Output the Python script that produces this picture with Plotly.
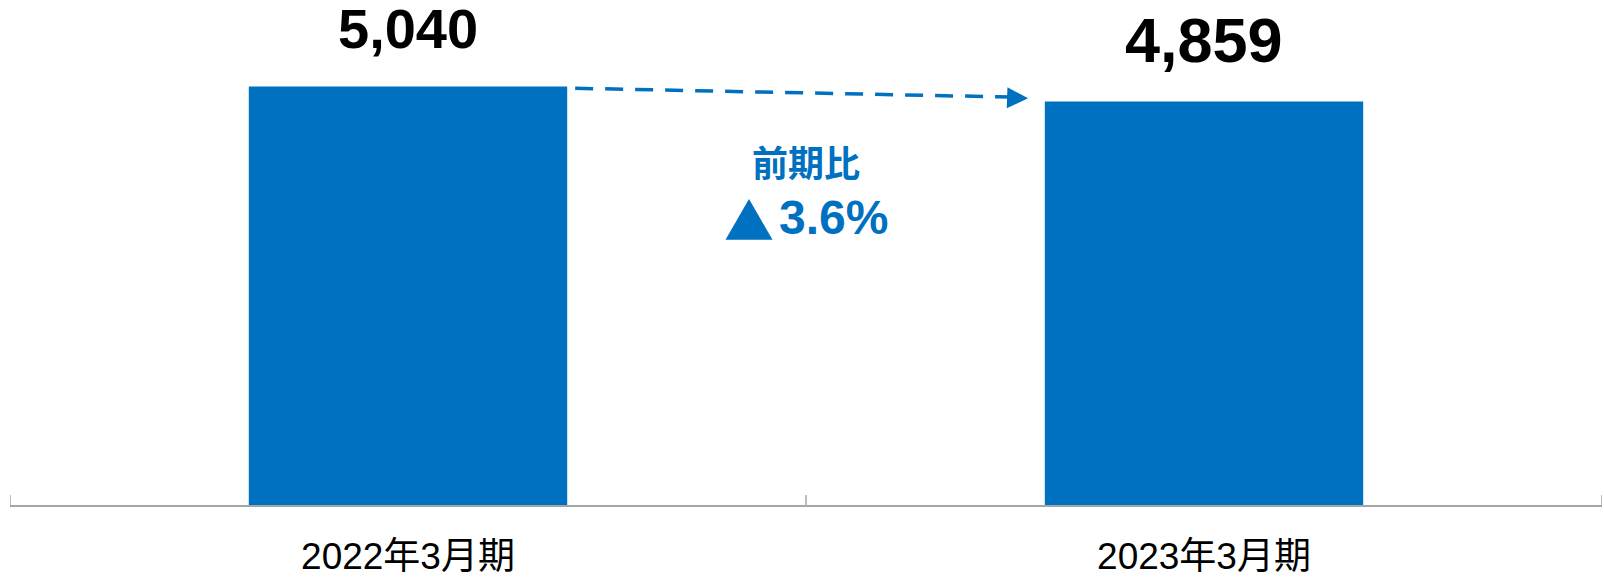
import plotly.graph_objects as go

categories = ["2022年3月期", "2023年3月期"]
values = [5040, 4859]
value_labels = ["5,040", "4,859"]
label_sizes = [56, 63]
change_title = "前期比"
change_mark = "▲"
change_text = "3.6%"

BLUE = "#0070C0"
FONT = "Liberation Sans, Arial, Noto Sans CJK JP, sans-serif"

fig = go.Figure()
fig.add_trace(go.Bar(
    x=list(range(len(categories))), y=values,
    marker=dict(color=BLUE, line=dict(width=0)),
    width=0.4, hoverinfo="skip",
))

for i, (v, lab, sz) in enumerate(zip(values, value_labels, label_sizes)):
    fig.add_annotation(x=i, y=v, xref="x", yref="y", text=f"<b>{lab}</b>",
                       showarrow=False, yanchor="middle", yshift=58 if i == 0 else 61,
                       borderpad=0,
                       font=dict(family=FONT, size=sz, color="black"))

# dashed connector between bar tops
x0 = 0 + 0.2 + 0.01
y0 = values[0] * 0.9955
x1 = 1 - 0.2 - 0.021
y1 = values[1] * 1.0076
fig.add_shape(type="line", xref="x", yref="y", x0=x0, y0=y0, x1=x1 - 0.018, y1=y1 + 15,
              line=dict(color=BLUE, width=3.5, dash="18px,12px"))
fig.add_annotation(x=x1, y=y1, xref="x", yref="y", ax=x1 - 0.025, ay=y1 + 8,
                   axref="x", ayref="y", text="", showarrow=True,
                   arrowhead=2, arrowsize=1.2, arrowwidth=3.5, arrowcolor=BLUE)

fig.add_annotation(x=0.5, y=0.675, xref="paper", yref="paper", text=f"<b>{change_title}</b>",
                   showarrow=False, yanchor="middle",
                   font=dict(family=FONT, size=36, color=BLUE))
fig.add_annotation(x=0.4805, y=0.568, xref="paper", yref="paper",
                   text=change_mark, showarrow=False, xanchor="right", yanchor="middle",
                   borderpad=0,
                   font=dict(family="Noto Sans CJK JP", size=50, color=BLUE))
fig.add_annotation(x=0.4825, y=0.57, xref="paper", yref="paper",
                   text=f"<b>{change_text}</b>", showarrow=False,
                   xanchor="left", yanchor="middle", borderpad=0,
                   font=dict(family=FONT, size=48, color=BLUE))

fig.update_layout(
    width=1604, height=577,
    margin=dict(l=10, r=2, t=0, b=72, autoexpand=False),
    paper_bgcolor="white", plot_bgcolor="white",
    showlegend=False, bargap=0.6,
    font=dict(family=FONT, color="black"),
)
fig.update_xaxes(
    tickmode="array", tickvals=list(range(len(categories))), ticktext=categories,
    range=[-0.5, len(categories) - 0.5],
    showline=True, linecolor="#A6A6A6", linewidth=1.5,
    showgrid=False, zeroline=False, automargin=False,
    tickfont=dict(family=FONT, size=37, color="black"),
    ticks="", ticklabelstandoff=18,
)
fig.update_yaxes(range=[0, 6080], visible=False, showgrid=False, zeroline=False,
                 automargin=False)

# boundary ticks pointing up
for bx in [-0.5, 0.5, 1.5]:
    fig.add_shape(type="line", xref="x", yref="paper", x0=bx, x1=bx, y0=0, y1=0.02,
                  line=dict(color="#A6A6A6", width=1.5))

fig.write_html("out.html")
